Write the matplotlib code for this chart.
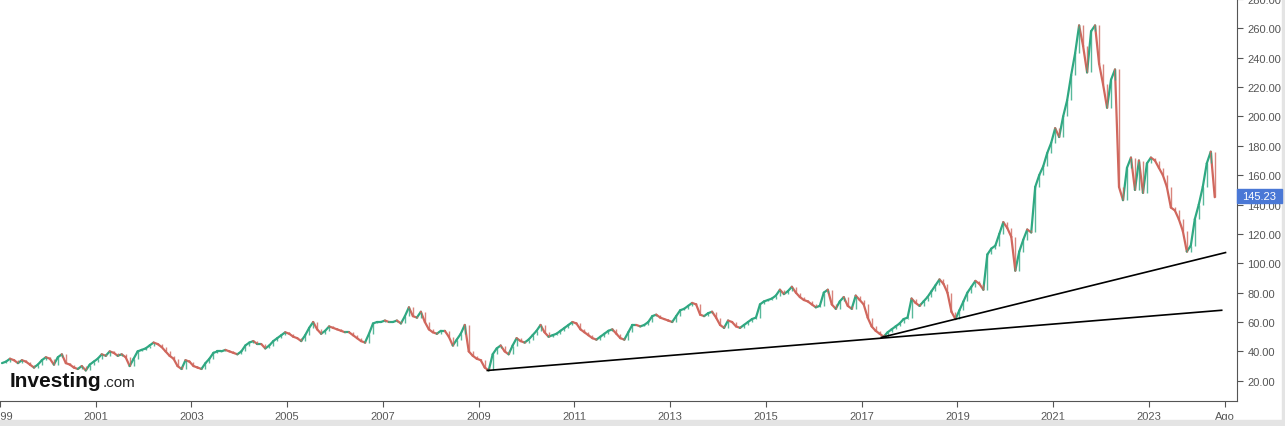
import numpy as np
import matplotlib.pyplot as plt
from matplotlib.patches import Rectangle
from matplotlib.collections import LineCollection

# monthly closes, Jan 1999 .. May 2024
closes_1999 = [32, 33, 35, 34, 32, 34, 33, 31, 29, 31, 34, 36]
closes_2000 = [35, 31, 36, 38, 32, 31, 29, 28, 30, 27, 31, 33]
closes_2001 = [35, 38, 37, 40, 39, 37, 38, 36, 30, 35, 40, 41]
closes_2002 = [42, 44, 46, 45, 43, 40, 37, 35, 30, 28, 34, 33]
closes_2003 = [30, 29, 28, 32, 35, 39, 40, 40, 41, 40, 39, 38]
closes_2004 = [40, 44, 46, 47, 45, 45, 42, 44, 47, 49, 51, 53]
closes_2005 = [52, 50, 49, 47, 51, 56, 60, 55, 52, 54, 57, 56]
closes_2006 = [55, 54, 53, 53, 51, 49, 47, 46, 52, 59, 60, 60]
closes_2007 = [61, 60, 60, 61, 59, 64, 70, 64, 63, 67, 60, 55]
closes_2008 = [53, 52, 54, 54, 50, 44, 48, 52, 58, 40, 37, 35]
closes_2009 = [34, 29, 27, 38, 42, 44, 40, 38, 44, 49, 47, 46]
closes_2010 = [48, 51, 54, 58, 53, 50, 51, 52, 54, 56, 58, 60]
closes_2011 = [59, 55, 53, 51, 49, 48, 50, 52, 54, 55, 52, 49]
closes_2012 = [48, 53, 58, 58, 57, 58, 60, 64, 65, 63, 62, 61]
closes_2013 = [60, 64, 68, 69, 71, 73, 72, 65, 64, 66, 67, 63]
closes_2014 = [58, 56, 61, 60, 57, 56, 58, 60, 62, 63, 72, 74]
closes_2015 = [75, 76, 78, 82, 79, 81, 84, 80, 77, 75, 74, 72]
closes_2016 = [70, 71, 80, 82, 72, 69, 74, 77, 71, 69, 78, 75]
closes_2017 = [72, 63, 57, 54, 52, 50, 53, 55, 57, 59, 62, 63]
closes_2018 = [76, 73, 71, 74, 77, 81, 85, 89, 86, 80, 67, 62]
closes_2019 = [68, 74, 80, 84, 88, 86, 82, 106, 110, 112, 120, 128]
closes_2020 = [124, 118, 95, 108, 116, 123, 121, 152, 160, 166, 175, 182]
closes_2021 = [192, 186, 200, 211, 228, 243, 262, 248, 230, 258, 262, 236]
closes_2022 = [222, 206, 225, 232, 152, 143, 165, 172, 150, 170, 148, 168]
closes_2023 = [172, 170, 165, 160, 152, 138, 136, 130, 122, 108, 112, 130]
closes_2024 = [140, 152, 168, 176, 145]

# trend lines (decimal year, price)
trend1_x = [2009.18, 2024.52]
trend1_y = [27.0, 68.0]
trend2_x = [2017.41, 2024.60]
trend2_y = [49.5, 107.3]

year_ticks = [1999, 2001, 2003, 2005, 2007, 2009, 2011, 2013, 2015, 2017, 2019, 2021, 2023]
price_ticks = [20, 40, 60, 80, 100, 120, 140, 160, 180, 200, 220, 240, 260, 280]
last_price = 145.23

closes = (closes_1999 + closes_2000 + closes_2001 + closes_2002 + closes_2003 +
          closes_2004 + closes_2005 + closes_2006 + closes_2007 + closes_2008 +
          closes_2009 + closes_2010 + closes_2011 + closes_2012 + closes_2013 +
          closes_2014 + closes_2015 + closes_2016 + closes_2017 + closes_2018 +
          closes_2019 + closes_2020 + closes_2021 + closes_2022 + closes_2023 +
          closes_2024)
closes = np.array(closes, dtype=float)
xs = 1999 + (np.arange(len(closes)) + 0.5) / 12

green = '#2fa882'
red = '#d0675d'

fig = plt.figure(figsize=(12.85, 4.27), dpi=100)
ax = fig.add_axes([0, 25 / 427, 1237 / 1285, 402 / 427])

# price path: each month drawn as a segment from the previous close, coloured by direction
segs = np.stack([np.column_stack([xs[:-1], closes[:-1]]),
                 np.column_stack([xs[1:], closes[1:]])], axis=1)
cols = np.where(closes[1:] >= closes[:-1], green, red)
ax.add_collection(LineCollection(segs, colors=cols, linewidths=1.6, capstyle='round'))
# small candle bodies on top
ax.vlines(xs[1:], np.minimum(closes[:-1], closes[1:]), np.maximum(closes[:-1], closes[1:]),
          colors=cols, lw=1.0, alpha=0.8)

ax.plot(trend1_x, trend1_y, color='black', lw=1.2)
ax.plot(trend2_x, trend2_y, color='black', lw=1.2)

ax.set_xlim(1999.04, 2024.84)
ax.set_ylim(6.2, 279.2)

ax.yaxis.tick_right()
ax.set_yticks(price_ticks)
ax.set_yticklabels([f'{p:.2f}' for p in price_ticks])
ax.set_xticks(year_ticks + [2024.58])
ax.set_xticklabels([str(y) for y in year_ticks] + ['Ago'])

for s in ['top', 'left']:
    ax.spines[s].set_visible(False)
ax.spines['right'].set_color('#555555')
ax.spines['bottom'].set_color('#555555')
ax.tick_params(axis='both', colors='#555555', labelcolor='#555555', labelsize=8, length=4, width=0.8)
for lab in ax.get_xticklabels() + ax.get_yticklabels():
    lab.set_fontfamily('Liberation Sans')

# last price tag
fig.patches.append(Rectangle((1237 / 1285, (427 - 204) / 427), 45 / 1285, 14 / 427,
                             transform=fig.transFigure, color='#4a78d6', zorder=5))
fig.text(1259.5 / 1285, (427 - 197) / 427, f'{last_price:.2f}', color='white', fontsize=8,
         fontfamily='Liberation Sans', ha='center', va='center', zorder=6)

# bottom strip and right border
fig.patches.append(Rectangle((0, 0), 1, 6 / 427, transform=fig.transFigure, color='#e4e4e4', zorder=0))
fig.patches.append(Rectangle((1282 / 1285, 0), 3 / 1285, 1, transform=fig.transFigure, color='#e4e4e4', zorder=0))

# watermark logo
logo = fig.text(10 / 1285, (427 - 387) / 427, 'Investing', fontsize=15, fontweight='bold', color='#111111',
                fontfamily='Liberation Sans', ha='left', va='baseline')
fig.canvas.draw()
bb = logo.get_window_extent()
fig.text(bb.x1 / fig.bbox.width + 0.5 / 1285, (427 - 387) / 427, '.com', fontsize=11, color='#222222',
         fontfamily='Liberation Sans', ha='left', va='baseline')

fig.savefig('out.png', dpi=100)
